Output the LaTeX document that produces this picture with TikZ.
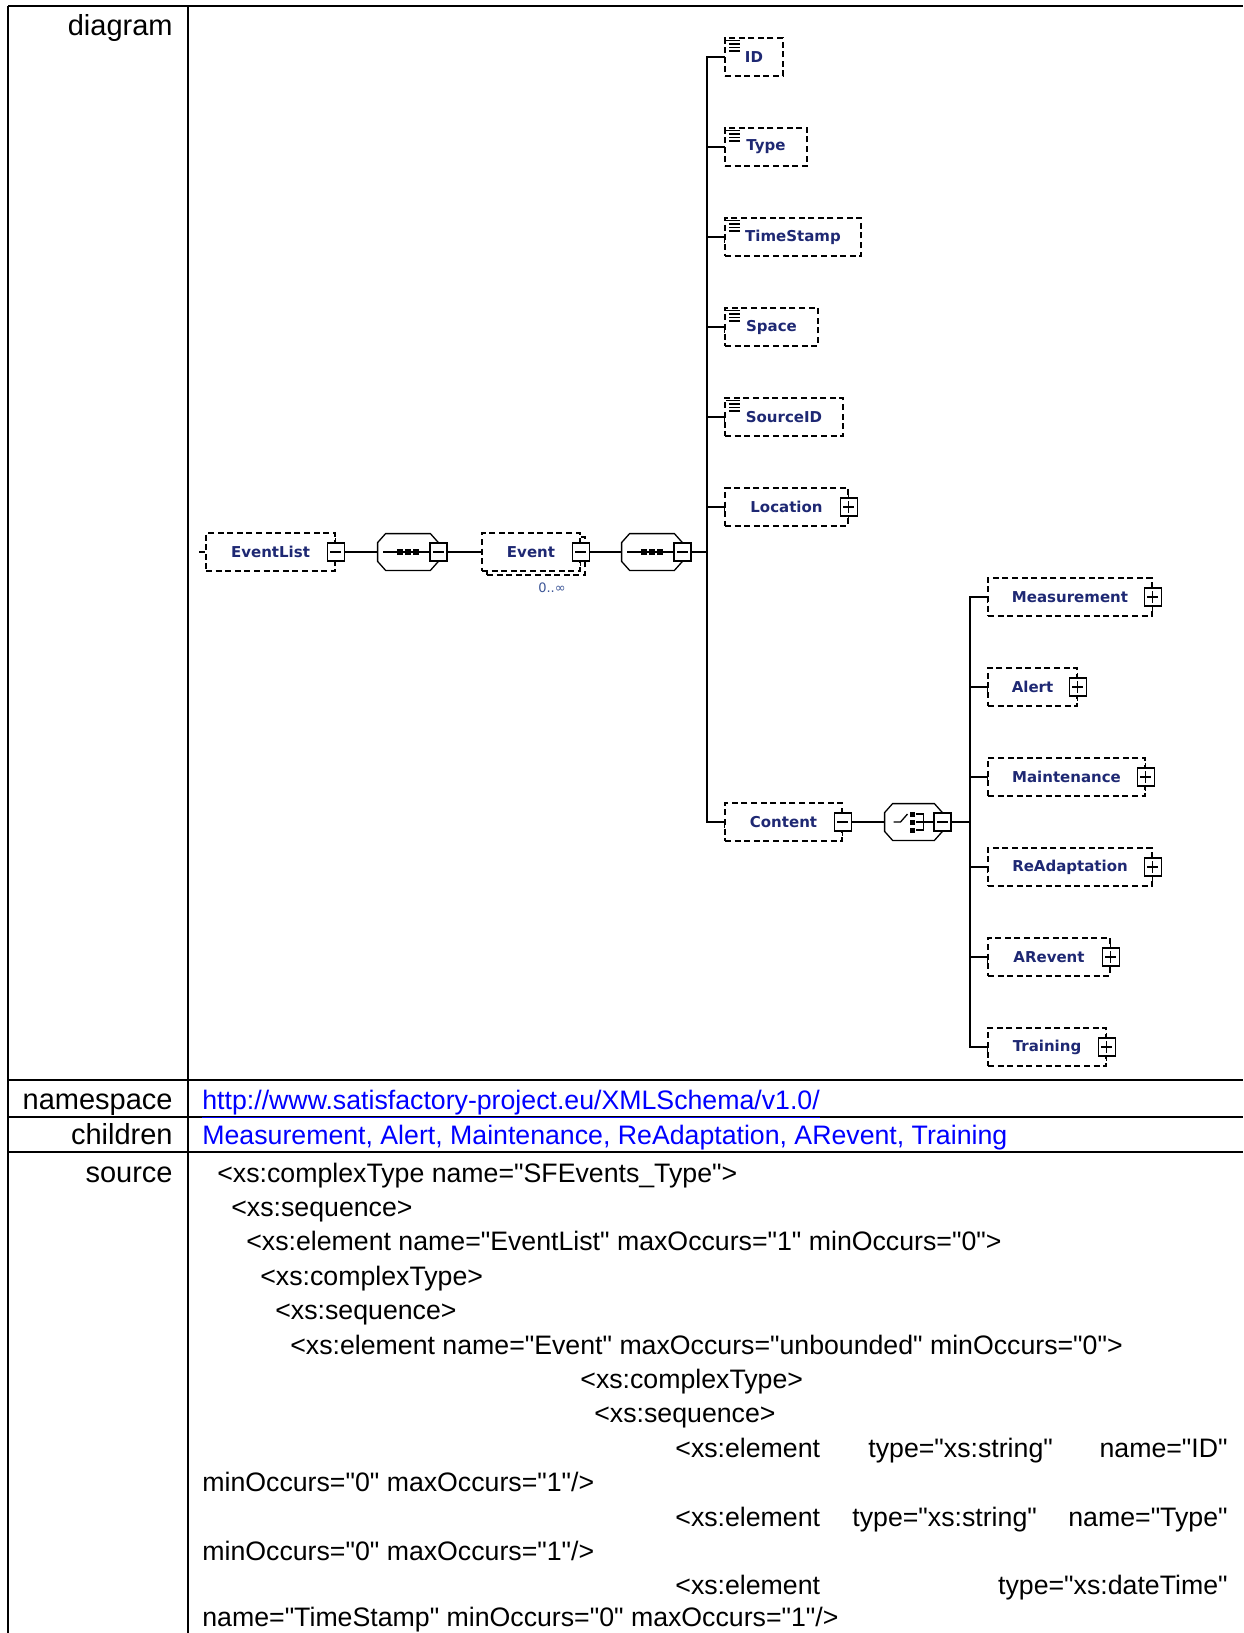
\documentclass[tikz,border=0pt]{standalone}
\usepackage{fontspec}
\setmainfont{Liberation Sans}[Ligatures=TeXOff]
\newfontfamily\diafont{DejaVu Sans}
\usetikzlibrary{positioning}

\definecolor{elemtext}{RGB}{30,40,115}
\definecolor{occtext}{RGB}{60,85,150}
\definecolor{linkblue}{RGB}{0,0,255}

\tikzset{
  conn/.style={line width=0.65pt},
  tabline/.style={line width=1pt},
  tabtxt/.style={inner sep=0pt, font=\fontsize{14.5}{17}\selectfont},
  celltxt/.style={inner sep=0pt, font=\fontsize{13.35}{16}\selectfont},
  elem/.style={draw, dash pattern=on 3pt off 1.8pt, line width=0.65pt, fill=white,
    minimum height=19pt, inner sep=0pt, text=elemtext,
    font=\diafont\bfseries\fontsize{7.5}{9}\selectfont},
  btn/.style={draw, solid, fill=white, line width=0.6pt, minimum width=8.5pt,
    minimum height=9pt, inner sep=0pt},
  minusbtn/.style={btn, path picture={
    \draw[line width=0.6pt] ([xshift=1.6pt]path picture bounding box.west) -- ([xshift=-1.6pt]path picture bounding box.east);}},
  plusbtn/.style={btn, path picture={
    \draw[line width=0.6pt] ([xshift=1.6pt]path picture bounding box.west) -- ([xshift=-1.6pt]path picture bounding box.east);
    \draw[line width=0.6pt] ([yshift=-1.6pt]path picture bounding box.north) -- ([yshift=1.6pt]path picture bounding box.south);}},
  comp/.style={minimum width=30pt, minimum height=18pt, inner sep=0pt},
  occ/.style={inner sep=0pt, text=occtext, font=\diafont\fontsize{6.5}{8}\selectfont}
}

% octagon frame of a compositor
\newcommand{\compframe}[1]{%
  \draw[conn, fill=white] ([xshift=4pt]#1.north west) -- ([xshift=-4pt]#1.north east)
    -- ([yshift=-4.5pt]#1.north east) -- ([yshift=4.5pt]#1.south east)
    -- ([xshift=-4pt]#1.south east) -- ([xshift=4pt]#1.south west)
    -- ([yshift=4.5pt]#1.south west) -- ([yshift=-4.5pt]#1.north west) -- cycle;}

\begin{document}
\begin{tikzpicture}[x=0.5pt, y=-0.5pt]
\useasboundingbox (0,0) rectangle (1243,1633);

% table frame
\draw[tabline] (8,6) -- (1243,6);
\draw[tabline] (8,6) -- (8,1633);
\draw[tabline] (188,6) -- (188,1633);
\draw[tabline] (8,1080) -- (1243,1080);
\draw[tabline] (8,1117) -- (1243,1117);
\draw[tabline] (8,1152) -- (1243,1152);

% row labels
\node[tabtxt, anchor=base east] (lblDiagram) at (173,35) {diagram};
\node[tabtxt, anchor=base east] (lblNamespace) at (173,1109) {namespace};
\node[tabtxt, anchor=base east] (lblChildren) at (173,1144.5) {children};
\node[tabtxt, anchor=base east] (lblSource) at (173,1182) {source};

% root element
\coordinate (root) at (199,552);
\node[elem, minimum width=64.5pt] (EventList) at (270.5,552) {EventList};
\draw[conn] (root) -- (EventList.west);
\draw[conn] (EventList.east) ++(0,-14) -- ++(0,28);
\node[minusbtn] (EventListBtn) at (EventList.east) {};

% first sequence
\node[comp] (seqA) at (408,552) {};
\compframe{seqA}
\begin{scope}[shift={(seqA)}]
  \draw[conn] (-25,0) -- (30,0);
  \foreach \dx in {-8,0,8} \fill (\dx-2.8,-2.8) rectangle (\dx+2.8,2.8);
\end{scope}
\node[minusbtn] (seqABtn) at (seqA.east) {};
\draw[conn] (EventListBtn.east) -- (seqA.west);

% Event, unbounded
\node[elem, minimum width=49pt] (EventBack) at (536,556) {};
\node[elem, minimum width=49pt] (Event) at (531,552) {Event};
\draw[conn] (Event.east) ++(0,-14) -- ++(0,28);
\node[minusbtn] (EventBtn) at (Event.east) {};
\node[occ] (EventOcc) at (552,588) {0..∞};
\draw[conn] (seqABtn.east) -- (Event.west);

% second sequence
\node[comp] (seqB) at (652,552) {};
\compframe{seqB}
\begin{scope}[shift={(seqB)}]
  \draw[conn] (-25,0) -- (30,0);
  \foreach \dx in {-8,0,8} \fill (\dx-2.8,-2.8) rectangle (\dx+2.8,2.8);
\end{scope}
\node[minusbtn] (seqBBtn) at (seqB.east) {};
\draw[conn] (EventBtn.east) -- (seqB.west);

\coordinate (trunkA) at (707,552);
\draw[conn] (seqBBtn.east) -- (trunkA);

% simple children
\foreach \nm/\w/\y in {ID/29/57, Type/41/147, TimeStamp/68/237, Space/46.5/327, SourceID/59/417} {
  \node[elem, minimum width=\w pt] (\nm) at ({725+\w},\y) {\nm};
  \draw[conn] (trunkA) |- (\nm.west) -- ++(0,6);
  \draw[line width=0.7pt] ([shift={(2,3)}]\nm.north west) -- ++(14,0);
  \foreach \ly in {6.5,10,13.5}
    \draw[line width=0.7pt] ([shift={(5,\ly)}]\nm.north west) -- ++(11,0);
}

\node[elem, minimum width=61.5pt] (Location) at (786.5,507) {Location};
\draw[conn] (trunkA) |- (Location.west) -- ++(0,6);
\draw[conn] (Location.east) ++(0,-14) -- ++(0,28);
\node[plusbtn] (LocationBtn) at (Location.east) {};

\node[elem, minimum width=58.5pt] (Content) at (783.5,822) {Content};
\draw[conn] (trunkA) |- (Content.west) -- ++(0,6);
\draw[conn] (Content.east) ++(0,-14) -- ++(0,28);
\node[minusbtn] (ContentBtn) at (Content.east) {};

% choice
\node[comp, minimum width=28.5pt] (choice) at (913.5,822) {};
\compframe{choice}
\begin{scope}[shift={(choice)}]
  \draw[conn] (-20,0) -- (-13,0) -- (-6,-8);
  \foreach \dy in {-8,0,8} \fill (-4,\dy-2.5) rectangle (1,\dy+2.5);
  \draw[conn] (2,-8) -- (10,-8) -- (10,8) -- (2,8);
  \draw[conn] (2,0) -- (26,0);
\end{scope}
\node[minusbtn] (choiceBtn) at (choice.east) {};
\draw[conn] (ContentBtn.east) -- (choice.west);

\coordinate (trunkB) at (970,822);
\draw[conn] (choiceBtn.east) -- (trunkB);

\foreach \nm/\w/\y in {Measurement/82/597, Alert/44.5/687, Maintenance/78.5/777, ReAdaptation/82/867, ARevent/61/957, Training/59/1047} {
  \node[elem, minimum width=\w pt] (\nm) at ({988+\w},\y) {\nm};
  \draw[conn] (trunkB) |- (\nm.west) -- ++(0,6);
  \draw[conn] (\nm.east) ++(0,-14) -- ++(0,28);
  \node[plusbtn] (\nm Btn) at (\nm.east) {};
}

% namespace and children
\node[celltxt, anchor=base west, text=linkblue] (nsLink) at (202,1109) {\underline{http://www.satisfactory-project.eu/XMLSchema/v1.0/}};
\node[celltxt, anchor=base west, text=linkblue] (childList) at (202,1144.5) {Measurement, Alert, Maintenance, ReAdaptation, ARevent, Training};

% source
\node[celltxt, anchor=base west] (src1) at (217,1182) {<xs:complexType name="SFEvents\_Type">};
\node[celltxt, anchor=base west] (src2) at (231,1216.4) {<xs:sequence>};
\node[celltxt, anchor=base west] (src3) at (246,1250.8) {<xs:element name="EventList" maxOccurs="1" minOccurs="0">};
\node[celltxt, anchor=base west] (src4) at (260,1285.2) {<xs:complexType>};
\node[celltxt, anchor=base west] (src5) at (275,1319.6) {<xs:sequence>};
\node[celltxt, anchor=base west] (src6) at (290,1354) {<xs:element name="Event" maxOccurs="unbounded" minOccurs="0">};
\node[celltxt, anchor=base west] (src7) at (580,1388.4) {<xs:complexType>};
\node[celltxt, anchor=base west] (src8) at (594,1422.8) {<xs:sequence>};
\node[celltxt, anchor=base west] (src9a) at (675,1457.2) {<xs:element};
\node[celltxt, anchor=base west] (src9b) at (868,1457.2) {type="xs:string"};
\node[celltxt, anchor=base east] (src9c) at (1228,1457.2) {name="ID"};
\node[celltxt, anchor=base west] (src10) at (202,1491.6) {minOccurs="0" maxOccurs="1"/>};
\node[celltxt, anchor=base west] (src11a) at (675,1526) {<xs:element};
\node[celltxt, anchor=base west] (src11b) at (852,1526) {type="xs:string"};
\node[celltxt, anchor=base east] (src11c) at (1228,1526) {name="Type"};
\node[celltxt, anchor=base west] (src12) at (202,1560.4) {minOccurs="0" maxOccurs="1"/>};
\node[celltxt, anchor=base west] (src13a) at (675,1594.8) {<xs:element};
\node[celltxt, anchor=base east] (src13b) at (1228,1594.8) {type="xs:dateTime"};
\node[celltxt, anchor=base west] (src14) at (202,1626) {name="TimeStamp" minOccurs="0" maxOccurs="1"/>};
\end{tikzpicture}
\end{document}
